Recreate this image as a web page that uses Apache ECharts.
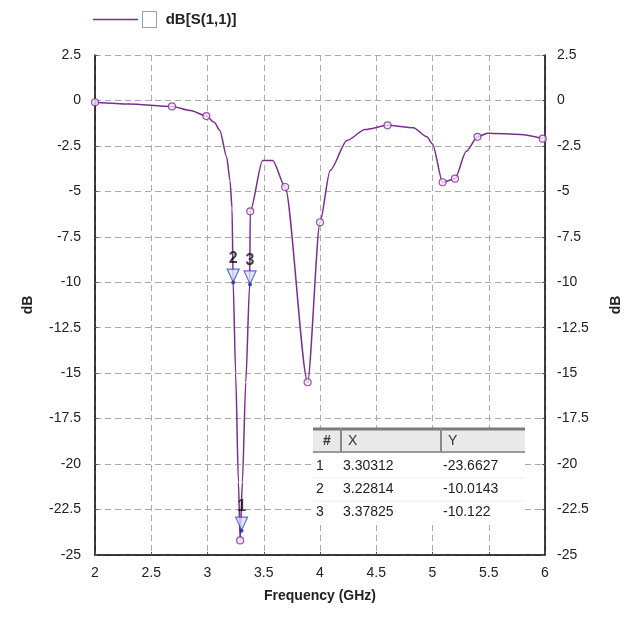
<!DOCTYPE html>
<html>
<head>
<meta charset="utf-8">
<title>dB[S(1,1)]</title>
<script src="https://cdn.jsdelivr.net/npm/echarts@6/dist/echarts.min.js"></script>
<style>
  html,body{margin:0;padding:0;background:#fff;}
  #chart{width:636px;height:619px;}
</style>
</head>
<body>
<div id="chart"></div>
<script>
// 曲线数据 (频率 GHz / dB)
var freq = [2.0, 2.3, 2.684, 2.85, 2.99, 3.06, 3.11, 3.17, 3.2, 3.218, 3.228, 3.25, 3.275, 3.29,
            3.31, 3.34, 3.375, 3.38, 3.49, 3.58, 3.69, 3.89, 4.0, 4.09, 4.24, 4.4, 4.6, 4.83,
            4.95, 5.0, 5.09, 5.2, 5.3, 5.4, 5.49, 5.78, 5.98];
var s11 = [-0.1, -0.2, -0.33, -0.55, -0.86, -1.2, -1.65, -3.1, -4.4, -5.9, -10.0, -15, -21, -24.2,
           -21, -15.5, -10.1, -6.1, -3.3, -3.3, -4.76, -15.5, -6.7, -3.85, -2.2, -1.6, -1.37, -1.5,
           -2.0, -2.4, -4.5, -4.3, -2.8, -2.0, -1.8, -1.87, -2.1];
// 仿真采样点(小圆圈)
var sampleX = [2.0, 2.684, 2.99, 3.29, 3.38, 3.69, 3.89, 4.0, 4.6, 5.09, 5.2, 5.4, 5.98];
var sampleY = [-0.1, -0.33, -0.86, -24.2, -6.1, -4.76, -15.5, -6.7, -1.37, -4.5, -4.3, -2.0, -2.1];
// 标记点 1,2,3
var markerId = ['1', '2', '3'];
var markerX = [3.30312, 3.22814, 3.37825];
var markerY = [-23.6627, -10.0143, -10.122];
var xTicks = {min: 2, max: 6, step: 0.5};
var yTicks = {min: -25, max: 2.5, step: 2.5};

(function(){
    var myChart = echarts.init(document.getElementById('chart'));
    var lineColor = '#7a2e8e';
    var font = '"Liberation Sans", Arial, sans-serif';

    function zip(a, b){
        return a.map(function(v, i){ return [v, b[i]]; });
    }

    // 表格(右下角) 用graphic画
    var tLeft = 313, tTop = 428, colX = [313, 341, 441, 525], headH = 24, rowH = 23;
    var table = [];
    table.push({type: 'rect', shape: {x: tLeft, y: tTop, width: colX[3] - tLeft, height: headH + rowH * 3 + 4},
        style: {fill: '#fff'}, z: 10});
    table.push({type: 'rect', shape: {x: tLeft, y: tTop, width: colX[3] - tLeft, height: headH},
        style: {fill: '#e9e9e9'}, z: 11});
    table.push({type: 'line', shape: {x1: tLeft, y1: tTop + 1, x2: colX[3], y2: tTop + 1},
        style: {stroke: '#7b7b7b', lineWidth: 3}, z: 12});
    table.push({type: 'line', shape: {x1: tLeft, y1: tTop + headH, x2: colX[3], y2: tTop + headH},
        style: {stroke: '#9a9a9a', lineWidth: 2}, z: 12});
    [colX[1], colX[2]].forEach(function(x){
        table.push({type: 'line', shape: {x1: x, y1: tTop, x2: x, y2: tTop + headH},
            style: {stroke: '#8a8a8a', lineWidth: 2}, z: 12});
    });
    var heads = ['#', 'X', 'Y'];
    heads.forEach(function(h, i){
        table.push({type: 'text', x: colX[i] + (i === 0 ? 14 : 7), y: tTop + headH / 2 + 1,
            style: {text: h, font: (i === 0 ? 'bold ' : '') + '14px ' + font, fill: '#333',
                align: i === 0 ? 'center' : 'left', verticalAlign: 'middle'}, z: 13});
    });
    for (var r = 0; r < 3; r++) {
        var cy = tTop + headH + rowH * r + rowH / 2 + 3;
        var cells = [markerId[r], markerX[r].toString(), markerY[r].toString()];
        cells.forEach(function(c, i){
            table.push({type: 'text', x: colX[i] + (i === 0 ? 3 : 2), y: cy,
                style: {text: c, font: '14px ' + font, fill: '#222', align: 'left', verticalAlign: 'middle'}, z: 13});
        });
        if (r < 2) {
            table.push({type: 'line', shape: {x1: tLeft, y1: cy + rowH / 2, x2: colX[3], y2: cy + rowH / 2},
                style: {stroke: '#eeeeee', lineWidth: 1}, z: 12});
        }
    }

    var option = {
        backgroundColor: '#fff',
        animation: false,
        grid: {left: 95, right: 91, top: 55, bottom: 64},
        legend: {
            data: ['dB[S(1,1)]'],
            left: 88, top: 6,
            icon: 'rect',
            itemWidth: 45, itemHeight: 1.5,
            formatter: '{box|}  {t|dB[S(1,1)]}',
            textStyle: {
                rich: {
                    box: {width: 13, height: 15, borderColor: '#a0a0a0', borderWidth: 1, backgroundColor: '#fff'},
                    t: {fontFamily: font, fontWeight: 'bold', fontSize: 15, color: '#222', padding: [0, 0, 0, 3]}
                }
            }
        },
        xAxis: {
            type: 'value', min: xTicks.min, max: xTicks.max, interval: xTicks.step,
            name: 'Frequency (GHz)', nameLocation: 'middle', nameGap: 34,
            nameTextStyle: {fontFamily: font, fontWeight: 'bold', fontSize: 14, color: '#222'},
            axisLine: {show: true, onZero: false, lineStyle: {color: '#000', width: 1.5}},
            axisTick: {show: true, inside: true, length: 3, lineStyle: {color: '#555'}},
            axisLabel: {fontFamily: font, fontSize: 14, color: '#222', margin: 11},
            splitLine: {show: true, lineStyle: {color: '#aaa', type: [6, 4]}}
        },
        yAxis: [0, 1].map(function(i){
            return {
                type: 'value', min: yTicks.min, max: yTicks.max, interval: yTicks.step,
                position: i === 0 ? 'left' : 'right',
                name: 'dB', nameLocation: 'middle', nameRotate: 90, nameGap: i === 0 ? 60 : 64,
                nameTextStyle: {fontFamily: font, fontWeight: 'bold', fontSize: 14, color: '#222'},
                axisLine: {show: true, onZero: false, lineStyle: {color: '#000', width: 1.5}},
                axisTick: {show: true, inside: true, length: 3, lineStyle: {color: '#555'}},
                axisLabel: {fontFamily: font, fontSize: 14, color: '#222', margin: i === 0 ? 14 : 12,
                    align: i === 0 ? 'right' : 'left'},
                splitLine: {show: i === 0, lineStyle: {color: '#aaa', type: [6, 4]}}
            };
        }),
        series: [
            {
                name: 'dB[S(1,1)]',
                type: 'line',
                data: zip(freq, s11),
                smooth: 0.25,
                smoothMonotone: 'x',
                showSymbol: false,
                lineStyle: {color: lineColor, width: 1.5},
                itemStyle: {color: lineColor},
                z: 3
            },
            {
                // 采样点小圆圈
                type: 'scatter',
                data: zip(sampleX, sampleY),
                symbol: 'circle', symbolSize: 7,
                itemStyle: {color: '#f3e2f6', borderColor: lineColor, borderWidth: 1.2},
                z: 4
            },
            {
                // 标记三角
                type: 'scatter',
                data: zip(markerX, markerY),
                symbol: 'triangle', symbolRotate: 180,
                symbolSize: [12, 13], symbolOffset: [0, -7],
                itemStyle: {color: '#d9e2fa', borderColor: '#3b4cc0', borderWidth: 1.2},
                label: {
                    show: true, position: 'top', distance: 2,
                    formatter: function(p){ return markerId[p.dataIndex]; },
                    fontFamily: font, fontWeight: 'bold', fontSize: 16, color: '#111'
                },
                z: 6
            },
            {
                // 标记尖端
                type: 'scatter',
                data: zip(markerX, markerY),
                symbol: 'circle', symbolSize: 4,
                itemStyle: {color: '#1f2aa0'},
                z: 7
            }
        ],
        graphic: table
    };
    myChart.setOption(option);
    window.addEventListener('resize', function(){
        myChart.resize();
    });
})();
</script>
</body>
</html>
